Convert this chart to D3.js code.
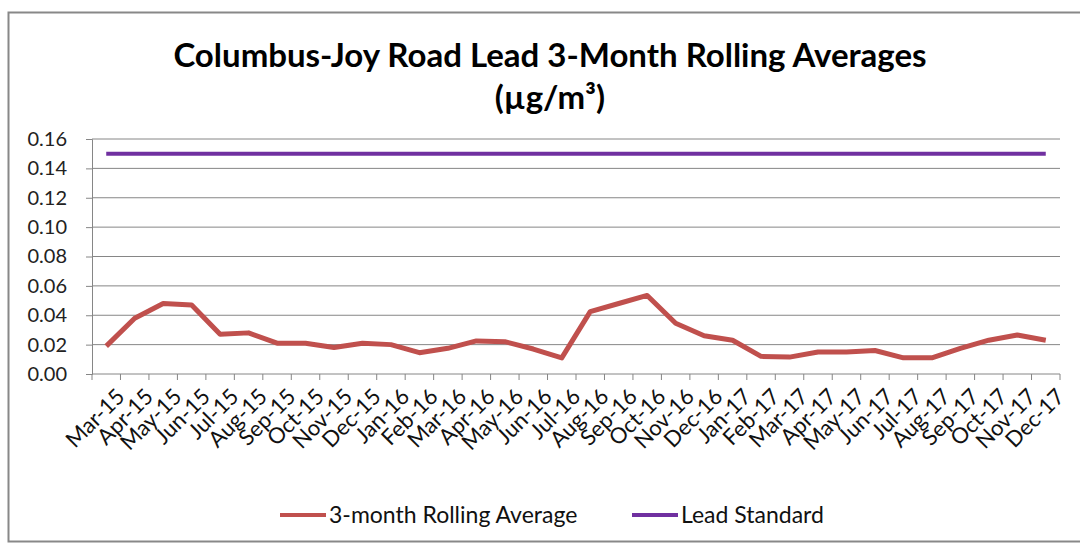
<!DOCTYPE html>
<html>
<head>
<meta charset="utf-8">
<script src="https://cdn.jsdelivr.net/npm/d3@7"></script>
<style>
body{margin:0;background:#fff;overflow:hidden;}
text{font-family:Lato,"Open Sans",sans-serif;}
</style>
</head>
<body>
<div id="chart"></div>
<script>
var w=1080;
var h=543;

var months=["Mar-15","Apr-15","May-15","Jun-15","Jul-15","Aug-15","Sep-15","Oct-15","Nov-15","Dec-15",
            "Jan-16","Feb-16","Mar-16","Apr-16","May-16","Jun-16","Jul-16","Aug-16","Sep-16","Oct-16","Nov-16","Dec-16",
            "Jan-17","Feb-17","Mar-17","Apr-17","May-17","Jun-17","Jul-17","Aug-17","Sep-17","Oct-17","Nov-17","Dec-17"];
var rolling=[0.019,0.038,0.048,0.047,0.027,0.028,0.021,0.021,0.018,0.021,
             0.020,0.0145,0.0175,0.0225,0.022,0.017,0.011,0.0425,0.048,0.0535,0.0345,0.026,
             0.023,0.012,0.0115,0.015,0.015,0.016,0.011,0.011,0.0175,0.023,0.0265,0.023];
var standard=months.map(function(){return 0.15;});
var yTicks=[0,0.02,0.04,0.06,0.08,0.10,0.12,0.14,0.16];

var svg=d3.select("#chart").append("svg")
          .attr("width",w)
          .attr("height",h)
          .style("display","block");

// chart border
svg.append("rect")
   .attr("x",8.5).attr("y",12.5)
   .attr("width",1200).attr("height",529)
   .attr("fill","none").attr("stroke","#888").attr("stroke-width",2);

var pLeft=92, pRight=1060, pTop=139, pBottom=374;

var x=d3.scaleBand().domain(months).range([pLeft,pRight]);
var y=d3.scaleLinear().domain([0,0.16]).range([pBottom,pTop]);

// gridlines
svg.append("g").selectAll("line")
   .data(yTicks.slice(1))
   .enter().append("line")
   .attr("x1",pLeft).attr("x2",pRight)
   .attr("y1",function(d){return y(d);})
   .attr("y2",function(d){return y(d);})
   .attr("stroke","#868686").attr("stroke-width",1);

// y axis
var yAxis=svg.append("g")
   .attr("transform","translate("+pLeft+",0)")
   .call(d3.axisLeft(y).tickValues(yTicks).tickFormat(d3.format(".2f")).tickSize(6).tickPadding(19));
yAxis.select(".domain").attr("stroke","#868686");
yAxis.selectAll(".tick line").attr("stroke","#868686");
yAxis.selectAll("text").attr("font-size",20).attr("fill","#222").attr("font-family","Lato");

// x axis: ticks between categories
var xg=svg.append("g").attr("transform","translate(0,"+pBottom+")");
xg.append("line").attr("x1",pLeft).attr("x2",pRight).attr("stroke","#868686");
var bounds=months.map(function(m){return x(m);}).concat([pRight]);
xg.selectAll(".tk").data(bounds).enter().append("line")
  .attr("x1",function(d){return d;}).attr("x2",function(d){return d;})
  .attr("y1",0).attr("y2",6).attr("stroke","#868686");
xg.selectAll(".lbl").data(months).enter().append("text")
  .attr("transform",function(d){return "translate("+(x(d)+x.bandwidth()/2+9)+",13) rotate(-45)";})
  .attr("text-anchor","end")
  .attr("dy","0.7em")
  .attr("font-size",22)
  .attr("fill","#111")
  .text(function(d){return d;});

var line=d3.line()
  .x(function(d,i){return x(months[i])+x.bandwidth()/2;})
  .y(function(d){return y(d);});

svg.append("path").datum(standard)
   .attr("d",line).attr("fill","none")
   .attr("stroke","#7030A0").attr("stroke-width",4);
svg.append("path").datum(rolling)
   .attr("d",line).attr("fill","none")
   .attr("stroke","#C0504D").attr("stroke-width",5)
   .attr("stroke-linejoin","round");

// title
svg.append("text").attr("x",550).attr("y",67)
   .attr("text-anchor","middle").attr("font-size",33).attr("font-weight","bold")
   .attr("fill","#000")
   .text("Columbus-Joy Road Lead 3-Month Rolling Averages");
svg.append("text").attr("x",550).attr("y",109)
   .attr("text-anchor","middle").attr("font-size",33).attr("font-weight","bold")
   .attr("fill","#000")
   .text("(µg/m³)");

// legend
var legend=[{name:"3-month Rolling Average",color:"#C0504D",x:280},
            {name:"Lead Standard",color:"#7030A0",x:632}];
var lg=svg.append("g").selectAll("g").data(legend).enter().append("g")
   .attr("transform",function(d){return "translate("+d.x+",515)";});
lg.append("line").attr("x1",0).attr("x2",46).attr("y1",0).attr("y2",0)
   .attr("stroke",function(d){return d.color;}).attr("stroke-width",4);
lg.append("text").attr("x",49).attr("y",0).attr("dy","0.35em")
   .attr("font-size",23).attr("fill","#111")
   .text(function(d){return d.name;});
</script>
</body>
</html>
